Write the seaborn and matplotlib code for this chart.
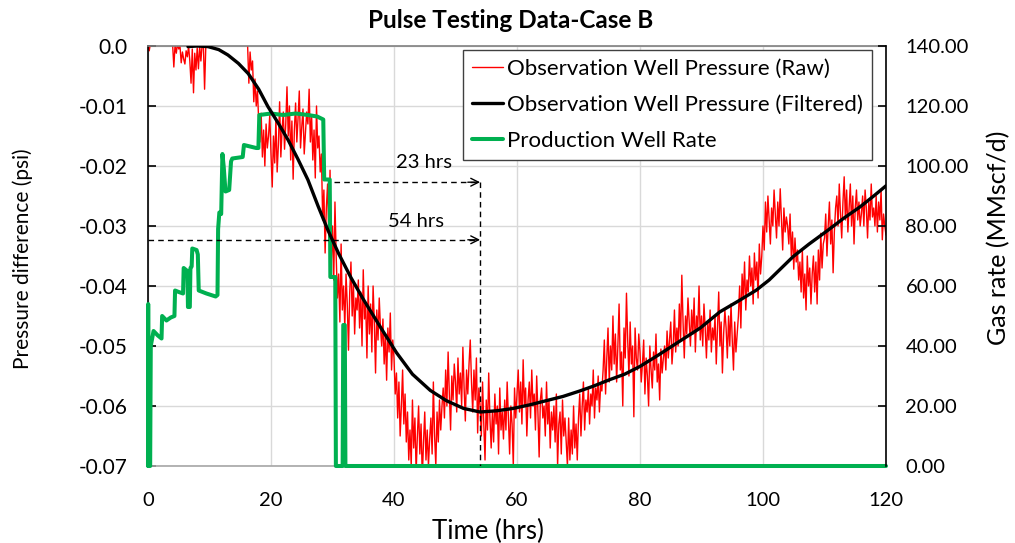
import numpy as np
import pandas as pd
import matplotlib
matplotlib.use("Agg")
import matplotlib.pyplot as plt
import seaborn as sns

# ---------------- data ----------------
# Raw observation-well pressure difference, one reading every 0.2 hr from 0 to 120 hr
# (values in units of 1e-4 psi)
raw_step_hr = 0.2
raw_e4 = [
    0, -8, 5, 10, 6, 12, 8, 15, 10, 7,
    9, 14, 6, 11, 16, 8, 12, 5, 10, 13,
    3, -35, 2, -12, 4, -5, 0, -28, -10, -22,
    -30, -8, -18, 0, -25, -62, -5, -78, -12, -40,
    -3, -38, 0, -25, 2, 4, -72, 0, 5, 3,
    0, 8, 12, 6, 15, 10, 18, 9, 14, 20,
    16, 11, 22, 14, 18, 25, 12, 20, 15, 24,
    19, 13, 21, 17, 26, 15, 22, 18, 12, 20,
    5, 0, -62, -10, -40, -25, -93, -55, -100, -75,
    -125, -160, -112, -185, -140, -200, -130, -170, -150, -115,
    -180, -235, -150, -195, -120, -210, -165, -93, -185, -140,
    -110, -172, -130, -68, -150, -100, -190, -125, -222, -140,
    -95, -160, -120, -75, -170, -135, -105, -180, -145, -110,
    -130, -72, -160, -115, -190, -140, -220, -100, -170, -150,
    -210, -180, -290, -240, -345, -270, -230, -320, -207, -360,
    -300, -390, -260, -350, -420, -380, -460, -330, -440, -400,
    -470, -380, -430, -507, -410, -360, -450, -395, -480, -420,
    -440, -390, -470, -410, -500, -373, -455, -430, -520, -400,
    -480, -430, -510, -400, -460, -545, -440, -490, -420, -470,
    -500, -455, -530, -480, -557, -470, -510, -445, -540, -490,
    -520, -580, -545, -620, -560, -650, -600, -540, -630, -580,
    -660, -610, -690, -640, -700, -590, -670, -620, -710, -650,
    -600, -680, -630, -720, -660, -610, -690, -640, -700, -655,
    -620, -680, -560, -650, -700, -610, -660, -590, -640, -600,
    -570, -620, -540, -600, -510, -580, -640, -550, -590, -530,
    -560, -610, -520, -580, -545, -600, -502, -570, -625, -540,
    -580, -530, -490, -560, -610, -540, -590, -520, -645, -570,
    -600, -650, -560, -630, -690, -590, -640, -545, -620, -670,
    -610, -660, -580, -630, -600, -680, -570, -640, -610, -655,
    -590, -640, -560, -620, -680, -600, -630, -700, -570, -620,
    -580, -540, -610, -560, -630, -523, -600, -570, -650, -590,
    -560, -620, -540, -600, -580, -640, -550, -610, -685, -590,
    -570, -620, -600, -650, -560, -630, -590, -670, -610, -640,
    -600, -660, -580, -700, -630, -610, -680, -590, -650, -620,
    -660, -700, -620, -690, -640, -680, -600, -670, -630, -690,
    -620, -580, -650, -600, -560, -640, -590, -610, -570, -630,
    -580, -600, -540, -620, -570, -590, -550, -610, -565, -575,
    -540, -490, -580, -520, -470, -560, -500, -540, -450, -530,
    -480, -560, -500, -430, -540, -510, -600, -470, -520, -412,
    -490, -550, -460, -530, -500, -618, -470, -520, -540, -480,
    -510, -560, -530, -490, -580, -520, -550, -600, -500, -540,
    -570, -510, -540, -480, -560, -530, -590, -505, -545, -520,
    -500, -540, -475, -520, -490, -460, -530, -500, -440, -510,
    -470, -500, -430, -490, -382, -460, -520, -450, -480, -420,
    -460, -500, -440, -480, -420, -510, -450, -470, -400, -490,
    -450, -500, -430, -470, -520, -460, -490, -440, -510, -470,
    -490, -450, -530, -470, -410, -500, -460, -545, -480, -440,
    -470, -520, -450, -500, -430, -490, -540, -460, -510, -480,
    -450, -400, -470, -380, -420, -360, -440, -390, -410, -350,
    -400, -370, -430, -345, -390, -360, -420, -330, -380, -350,
    -300, -340, -260, -310, -250, -290, -330, -270, -300, -240,
    -280, -320, -260, -300, -238, -290, -340, -270, -310, -285,
    -300, -330, -280, -350, -310, -372, -320, -360, -340, -390,
    -360, -410, -340, -420, -380, -440, -350, -400, -370, -430,
    -380, -350, -410, -360, -430, -340, -390, -312, -370, -330,
    -320, -280, -350, -300, -260, -330, -290, -378, -310, -270,
    -250, -300, -230, -280, -320, -260, -218, -290, -240, -310,
    -270, -230, -300, -250, -330, -270, -240, -290, -260, -300,
    -280, -250, -300, -240, -270, -320, -260, -290, -230, -285,
    -270, -300, -250, -310, -260, -290, -240, -323, -280, -300,
    -315,
]

# Filtered observation-well pressure (hr, 1e-4 psi)
filt_t = [6.5, 8.0, 9.75, 11.5, 13.0, 14.7, 16.3, 18.0, 19.5, 21.2,
          22.8, 24.4, 26.0, 27.7, 29.3, 31.0, 33.0, 35.0, 37.7, 40.4,
          43.0, 45.9, 48.5, 51.3, 54.0, 56.7, 59.4, 62.1, 64.8, 67.5,
          70.2, 72.4, 75.1, 77.5, 80.0, 83.0, 86.0, 89.8, 93.0, 96.0,
          98.9, 101.0, 102.5, 104.9, 107.5, 110.3, 113.0, 115.8, 118.0, 120.0]
filt_e4 = [-1, 0, -1, -6, -15, -29, -46, -72, -101, -129,
           -157, -189, -223, -268, -308, -346, -386, -422, -467, -511,
           -547, -574, -591, -604, -610, -608, -604, -598, -591, -584,
           -575, -567, -556, -547, -534, -515, -495, -470, -443, -425,
           -407, -390, -375, -351, -330, -309, -288, -268, -250, -233]

# Production well gas rate (hr, MMscf/d)
rate_t = [0.0, 0.03, 0.1, 0.35, 0.45, 0.9, 1.6, 2.2, 2.3, 3.0,
          3.7, 4.3, 4.4, 5.0, 5.7, 5.8, 6.4, 6.5, 6.8, 6.9,
          7.1, 7.2, 7.9, 8.1, 8.25, 9.5, 11.0, 11.3, 11.4, 11.6,
          11.9, 12.1, 12.3, 12.6, 13.2, 13.5, 13.7, 15.4, 15.6, 17.6,
          17.95, 18.1, 20.0, 22.0, 24.0, 26.0, 27.5, 28.5, 28.65, 29.55,
          29.65, 30.45, 30.55, 31.65, 31.75, 32.0, 32.1, 120.0]
rate_v = [0, 54, 0, 0, 40, 45, 43.5, 42.5, 50, 48.5,
          49.5, 50, 58.5, 58, 57.5, 66, 65, 53, 53, 66,
          66.5, 72.5, 72, 70.5, 58.5, 57.5, 56.5, 57, 79, 84.5,
          84, 104, 100, 91.5, 92, 101.5, 102.5, 103, 107, 106,
          106, 117, 117.5, 117, 117.5, 117, 116.5, 115.5, 95.5, 95.5,
          63, 63, 0, 0, 47, 47, 0, 0]

left_ticks = [-0.07, -0.06, -0.05, -0.04, -0.03, -0.02, -0.01, 0.0]
left_labels = ["-0.07", "-0.06", "-0.05", "-0.04", "-0.03", "-0.02", "-0.01", "0.0"]
right_ticks = [0, 20, 40, 60, 80, 100, 120, 140]
right_labels = ["0.00", "20.00", "40.00", "60.00", "80.00", "100.00", "120.00", "140.00"]
x_ticks = [0, 20, 40, 60, 80, 100, 120]

series_names = ["Observation Well Pressure (Raw)",
                "Observation Well Pressure (Filtered)",
                "Production Well Rate"]

# ---------------- frames ----------------
raw_df = pd.DataFrame({"t": np.arange(len(raw_e4)) * raw_step_hr,
                       "p": np.array(raw_e4) / 1e4})
filt_df = pd.DataFrame({"t": filt_t, "p": np.array(filt_e4) / 1e4})
rate_df = pd.DataFrame({"t": rate_t, "q": rate_v})

# ---------------- style ----------------
sns.set_theme(style="white")
plt.rcParams['font.family'] = ['Lato', 'DejaVu Sans']
plt.rcParams['text.color'] = 'black'
plt.rcParams['axes.labelcolor'] = 'black'
plt.rcParams['xtick.color'] = 'black'
plt.rcParams['ytick.color'] = 'black'

W, H = 1015, 543
fig = plt.figure(figsize=(W / 100, H / 100), dpi=100)
L, R, T, B = 148, 886, 46, 466
ax = fig.add_axes([L / W, 1 - B / H, (R - L) / W, (B - T) / H])
ax2 = ax.twinx()
ax3 = ax.twinx()

sns.lineplot(data=raw_df, x="t", y="p", ax=ax, color="#ff0000", lw=1.0,
             sort=False, estimator=None, legend=False)
sns.lineplot(data=rate_df, x="t", y="q", ax=ax2, color="#00b050", lw=2.9,
             sort=False, estimator=None, legend=False, clip_on=False)
sns.lineplot(data=filt_df, x="t", y="p", ax=ax3, color="black", lw=2.4,
             sort=False, estimator=None, legend=False)

for a in (ax, ax3):
    a.set_ylim(-0.07, 0.0)
    a.set_xlim(0, 120)
ax2.set_ylim(0, 140)

# grid & spines
ax.grid(True, color="#d9d9d9", lw=1.0)
ax.set_axisbelow(True)
ax.spines['left'].set_color('black')
ax.spines['top'].set_color('#7f7f7f')
ax.spines['bottom'].set_color('#a6a6a6')
ax.spines['right'].set_visible(False)
for s in ax.spines.values():
    s.set_linewidth(1.2)
for nm, s in ax2.spines.items():
    s.set_visible(nm == 'right')
ax2.spines['right'].set_color('black')
ax2.spines['right'].set_linewidth(1.2)
for s in ax3.spines.values():
    s.set_visible(False)

ax.set_xticks(x_ticks)
ax.set_xticklabels([str(v) for v in x_ticks])
ax.set_yticks(left_ticks)
ax.set_yticklabels(left_labels)
ax.tick_params(axis='x', direction='out', length=6, width=1.0, color='#a6a6a6',
               pad=12.5, labelsize=14.5)
ax.tick_params(axis='y', direction='in', length=6, width=1.2, pad=14.5, labelsize=15)
ax2.set_yticks(right_ticks)
ax2.set_yticklabels(right_labels)
ax2.tick_params(axis='y', direction='in', length=6, width=1.2, pad=14, labelsize=14.5)
ax3.set_yticks([])
ax3.tick_params(right=False, labelright=False, left=False, bottom=False, labelbottom=False)

ax.set_xlabel("")
ax.set_ylabel("")
ax2.set_ylabel("")
ax3.set_ylabel("")
ax3.set_xlabel("")

fig.text(487.5 / W, 1 - 531 / H, "Time (hrs)", ha='center', va='center', fontsize=18.5)
fig.text(23 / W, 1 - 259 / H, "Pressure difference (psi)", ha='center', va='center',
         rotation=90, fontsize=15)
fig.text(999 / W, 1 - 238 / H, "Gas rate (MMscf/d)", ha='center', va='center',
         rotation=90, fontsize=18)
fig.text(511 / W, 1 - 20 / H, "Pulse Testing Data-Case B", ha='center', va='center',
         fontsize=17.5, fontweight='bold')

# annotations: dashed arrows
dash = (0, (4, 3))
y23, y54, x_end = -0.0227, -0.0323, 54.0
ax3.plot([30.2, 53.2], [y23, y23], color='black', lw=1.0, ls=dash)
ax3.plot([0.0, 53.2], [y54, y54], color='black', lw=1.0, ls=dash)
ax3.plot([x_end, x_end], [y23, -0.07], color='black', lw=1.0, ls=dash)
for yy in (y23, y54):
    ax3.annotate('', xy=(x_end, yy), xytext=(52.0, yy),
                 arrowprops=dict(arrowstyle='->', color='black', lw=1.0,
                                 mutation_scale=14, shrinkA=0, shrinkB=0))
ax3.text(44.9, -0.0195, "23 hrs", ha='center', va='center', fontsize=14.5)
ax3.text(43.5, -0.0293, "54 hrs", ha='center', va='center', fontsize=14.5)

# legend
handles = [ax.get_lines()[0], ax3.get_lines()[0], ax2.get_lines()[0]]
leg = ax3.legend(handles, series_names, loc='upper left',
                 bbox_to_anchor=((463 - L) / (R - L), 1 - (50 - T) / (B - T)),
                 frameon=True, fancybox=False, framealpha=1, edgecolor='#404040',
                 fontsize=16, handlelength=1.4, handletextpad=0.2, borderpad=0.4,
                 labelspacing=0.72, borderaxespad=0)
leg.get_frame().set_linewidth(1.0)
leg.set_zorder(10)

fig.savefig("out.png", dpi=100)
